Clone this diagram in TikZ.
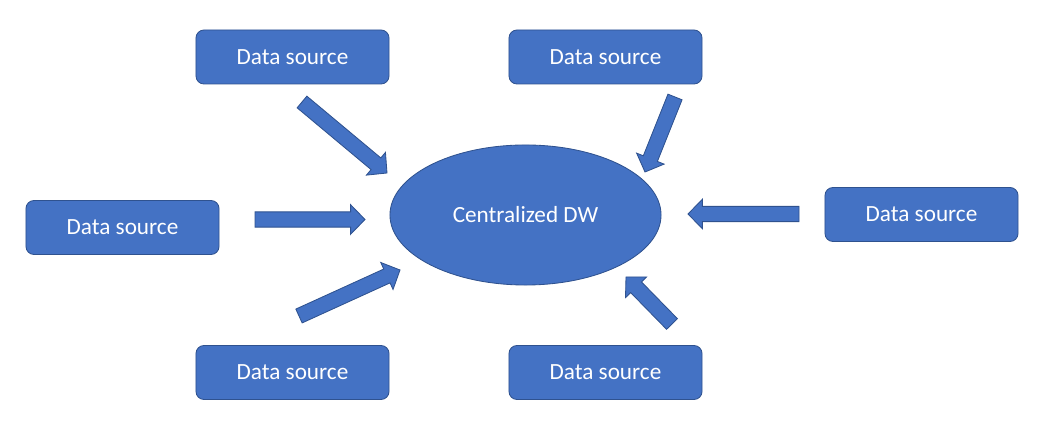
\documentclass[tikz,border=0pt]{standalone}
\usepackage{fontspec}
\setmainfont{Carlito}
\usetikzlibrary{calc,shapes.geometric}
\definecolor{boxblue}{HTML}{4472C4}
\definecolor{edgeblue}{HTML}{2F528F}
\def\blockarrow(#1)(#2){%
  \coordinate (hb) at ($(#2)!0.36cm!(#1)$);
  \draw[blockar] ($(#1)!0.19cm!90:(#2)$) -- ($(hb)!0.19cm!90:(#2)$) -- ($(hb)!0.37cm!90:(#2)$) -- (#2)
    -- ($(hb)!0.37cm!-90:(#2)$) -- ($(hb)!0.19cm!-90:(#2)$) -- ($(#1)!0.19cm!-90:(#2)$) -- cycle;}
\tikzset{
  source/.style={draw=edgeblue, fill=boxblue, line width=0.6pt, rounded corners=0.2cm,
    minimum width=4.825cm, minimum height=1.35cm, text=white, font=\fontsize{16.5}{20}\selectfont},
  dwhub/.style={ellipse, draw=edgeblue, fill=boxblue, line width=0.6pt, inner sep=0pt,
    minimum width=6.775cm, minimum height=3.5cm, text=white, font=\fontsize{16.5}{20}\selectfont},
  blockar/.style={draw=edgeblue, fill=boxblue, line width=0.6pt, line join=miter}
}
\begin{document}
\begin{tikzpicture}[x=0.025cm, y=0.025cm]
			%%%%% START %%%%%
			\useasboundingbox (0, 0) rectangle (1043, 444);
			
			\node[dwhub] (dw) at (525.5, 229) {Centralized DW};
			
			\node[source] (srcTL) at (292.5, 387) {Data source};
			\node[source] (srcTR) at (605.5, 387) {Data source};
			\node[source] (srcL) at (122.5, 216.5) {Data source};
			\node[source] (srcR) at (921.5, 229.5) {Data source};
			\node[source] (srcBL) at (292.5, 71.5) {Data source};
			\node[source] (srcBR) at (605.5, 71.5) {Data source};
			
			\coordinate (tlA) at (302, 342); \coordinate (tlB) at (387, 271);
			\coordinate (trA) at (675, 347); \coordinate (trB) at (645, 272);
			\coordinate (lA) at (255, 224.5); \coordinate (lB) at (365, 224.5);
			\coordinate (rA) at (799, 230); \coordinate (rB) at (688, 230);
			\coordinate (blA) at (299, 128); \coordinate (blB) at (400, 174);
			\coordinate (brA) at (672, 120); \coordinate (brB) at (626, 167);
			
			\blockarrow(tlA)(tlB)
			\blockarrow(trA)(trB)
			\blockarrow(lA)(lB)
			\blockarrow(rA)(rB)
			\blockarrow(blA)(blB)
			\blockarrow(brA)(brB)
			
			%%%%% END %%%%%
\end{tikzpicture}
\end{document}
